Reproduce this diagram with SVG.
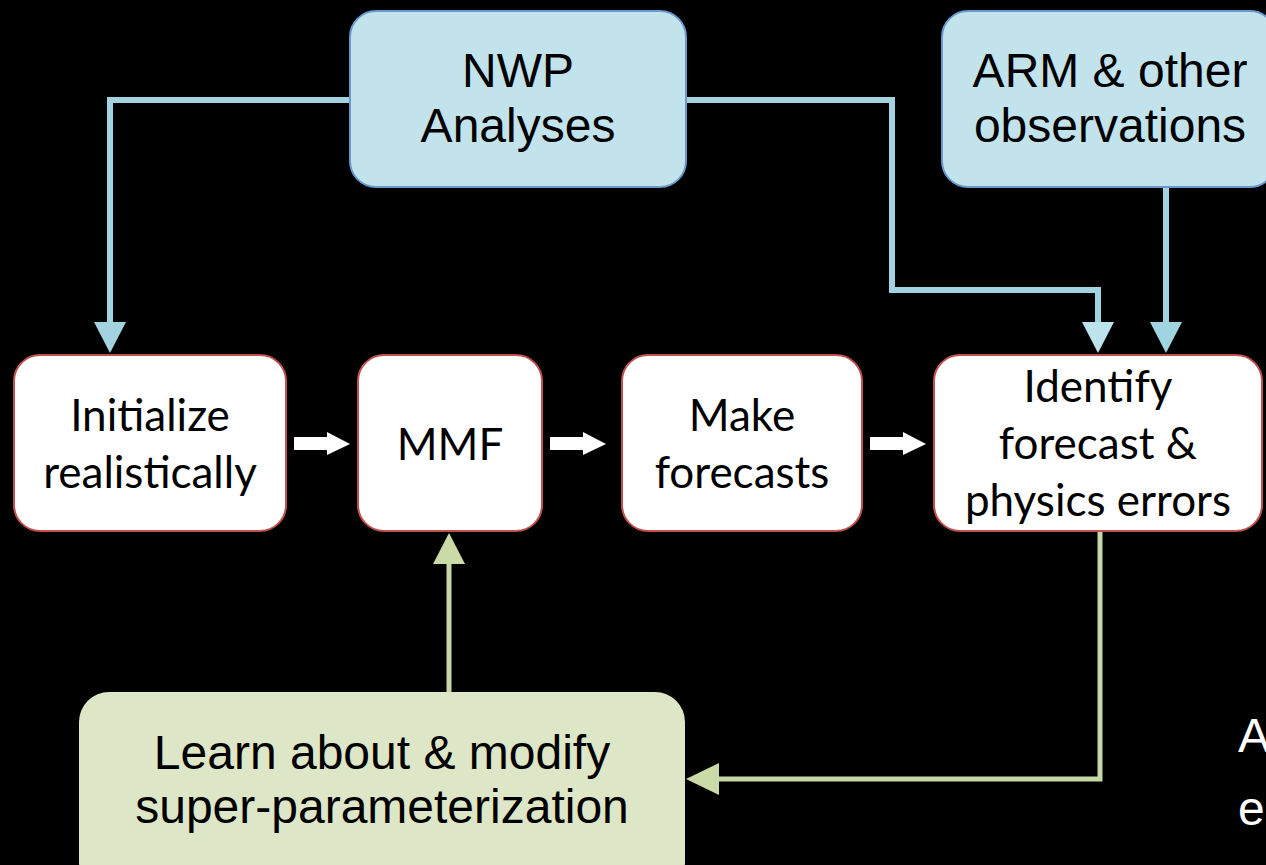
<svg xmlns="http://www.w3.org/2000/svg" width="1266" height="865" viewBox="0 0 1266 865">
  <style>
    .src { fill: #c2e3ec; stroke: #6a98cc; stroke-width: 2; }
    .step { fill: #ffffff; stroke: #c0504d; stroke-width: 2; }
    .learn { fill: #dde6c6; stroke: none; }
    .sans { font-family: "Liberation Sans", Arial, sans-serif; font-size: 48px; fill: #000; text-anchor: middle; }
    .cal { font-family: Lato, "Open Sans", sans-serif; font-size: 44px; fill: #000; text-anchor: middle; }
    .blue { fill: none; stroke: #a3d3e1; stroke-width: 6; }
    .green { fill: none; stroke: #c6d8a5; stroke-width: 5; }
    .note { font-family: "Liberation Sans", Arial, sans-serif; font-size: 48px; fill: #ffffff; }
  </style>
  <rect width="1266" height="865" fill="#000000"/>

  <!-- connectors -->
  <g id="connectors">
    <path class="blue" d="M352,100 H110 V324"/>
    <polygon points="94,322 126,322 110,353" fill="#a3d3e1"/>
    <path class="blue" d="M684,100 H892 V290 H1098 V324"/>
    <polygon points="1082,322 1114,322 1098,353" fill="#bde3ec"/>
    <path class="blue" d="M1166,187 V324"/>
    <polygon points="1150,322 1182,322 1166,353" fill="#9fd4e0"/>

    <path class="green" d="M1100,531 V779 H717"/>
    <polygon points="719,763 719,795 686,779" fill="#cadba7"/>
    <path class="green" d="M449,692 V562"/>
    <polygon points="433,564 465,564 449,533" fill="#cadba7"/>

    <g fill="#ffffff">
      <polygon points="294,437 327,437 327,432 350,444 327,455 327,450 294,450"/>
      <polygon points="550,437 583,437 583,432 606,444 583,455 583,450 550,450"/>
      <polygon points="870,437 903,437 903,432 926,444 903,455 903,450 870,450"/>
    </g>
  </g>

  <g id="nwp">
    <rect class="src" x="350" y="11" width="336" height="176" rx="26"/>
    <text class="sans" x="518" y="87">NWP</text>
    <text class="sans" x="518" y="142">Analyses</text>
  </g>
  <g id="arm">
    <rect class="src" x="942" y="11" width="334" height="176" rx="26"/>
    <text class="sans" x="1110" y="87">ARM &amp; other</text>
    <text class="sans" x="1110" y="142">observations</text>
  </g>

  <g id="initialize">
    <rect class="step" x="14" y="355" width="272" height="176" rx="26"/>
    <text class="cal" x="150" y="431">Initialize</text>
    <text class="cal" x="150" y="488">realistically</text>
  </g>
  <g id="mmf">
    <rect class="step" x="358" y="355" width="184" height="176" rx="26"/>
    <text class="cal" x="450" y="460">MMF</text>
  </g>
  <g id="forecasts">
    <rect class="step" x="622" y="355" width="240" height="176" rx="26"/>
    <text class="cal" x="742" y="431">Make</text>
    <text class="cal" x="742" y="488">forecasts</text>
  </g>
  <g id="identify">
    <rect class="step" x="934" y="355" width="328" height="176" rx="26"/>
    <text class="cal" x="1098" y="402">Identify</text>
    <text class="cal" x="1098" y="459">forecast &amp;</text>
    <text class="cal" x="1098" y="516">physics errors</text>
  </g>

  <g id="learn">
    <rect class="learn" x="79" y="692" width="606" height="200" rx="30"/>
    <text class="sans" x="382" y="769">Learn about &amp; modify</text>
    <text class="sans" x="382" y="823">super-parameterization</text>
  </g>

  <g id="note">
    <text class="note" x="1238" y="752">A</text>
    <text class="note" x="1238" y="825">e</text>
  </g>
</svg>
